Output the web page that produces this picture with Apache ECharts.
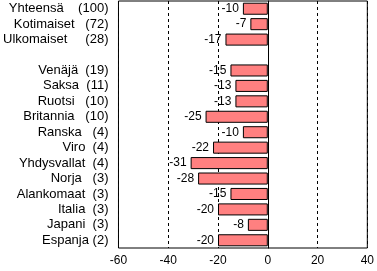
<!DOCTYPE html>
<html><head><meta charset="utf-8">
<script src="https://cdn.jsdelivr.net/npm/echarts@6/dist/echarts.min.js"></script>
<style>html,body{margin:0;padding:0;background:#fff}#c{width:377px;height:271px}</style>
</head><body><div id="c"></div>
<script>
const categories = ['Yhteensä    (100)', 'Kotimaiset   (72)', 'Ulkomaiset     (28)', '', 'Venäjä  (19)', 'Saksa  (11)', 'Ruotsi   (10)', 'Britannia   (10)', 'Ranska   (4)', 'Viro  (4)', 'Yhdysvallat  (4)', 'Norja   (3)', 'Alankomaat  (3)', 'Italia  (3)', 'Japani  (3)', 'Espanja (2)'];
const values = [-10, -7, -17, null, -15, -13, -13, -25, -10, -22, -31, -28, -15, -20, -8, -20];
const xTicks = [-60, -40, -20, 0, 20, 40];

const font = 'Liberation Sans, Arial, sans-serif';
const chart = echarts.init(document.getElementById('c'), null, {renderer: 'canvas'});
chart.setOption({
  animation: false,
  grid: {left: 118, right: 8, top: 1, bottom: 23, show: true, borderColor: '#000', borderWidth: 1, backgroundColor: 'transparent'},
  xAxis: {
    type: 'value', min: xTicks[0], max: xTicks[xTicks.length - 1], interval: 20,
    axisLine: {show: false}, axisTick: {show: false},
    axisLabel: {color: '#000', fontFamily: font, fontSize: 12, margin: 7},
    splitLine: {show: true, lineStyle: {color: '#000', type: [3, 3], width: 1}}
  },
  yAxis: {
    type: 'category', data: categories, inverse: true,
    axisLine: {show: true, onZero: true, lineStyle: {color: '#000', width: 1}},
    axisTick: {show: false},
    axisLabel: {color: '#000', fontFamily: font, fontSize: 13, margin: 10, interval: 0}
  },
  series: [{
    type: 'bar', data: values, barCategoryGap: '22%',
    itemStyle: {color: '#FF8080', borderColor: '#000', borderWidth: 1},
    label: {show: true, position: 'left', distance: 4, color: '#000', fontFamily: font, fontSize: 12}
  }]
});
</script></body></html>
